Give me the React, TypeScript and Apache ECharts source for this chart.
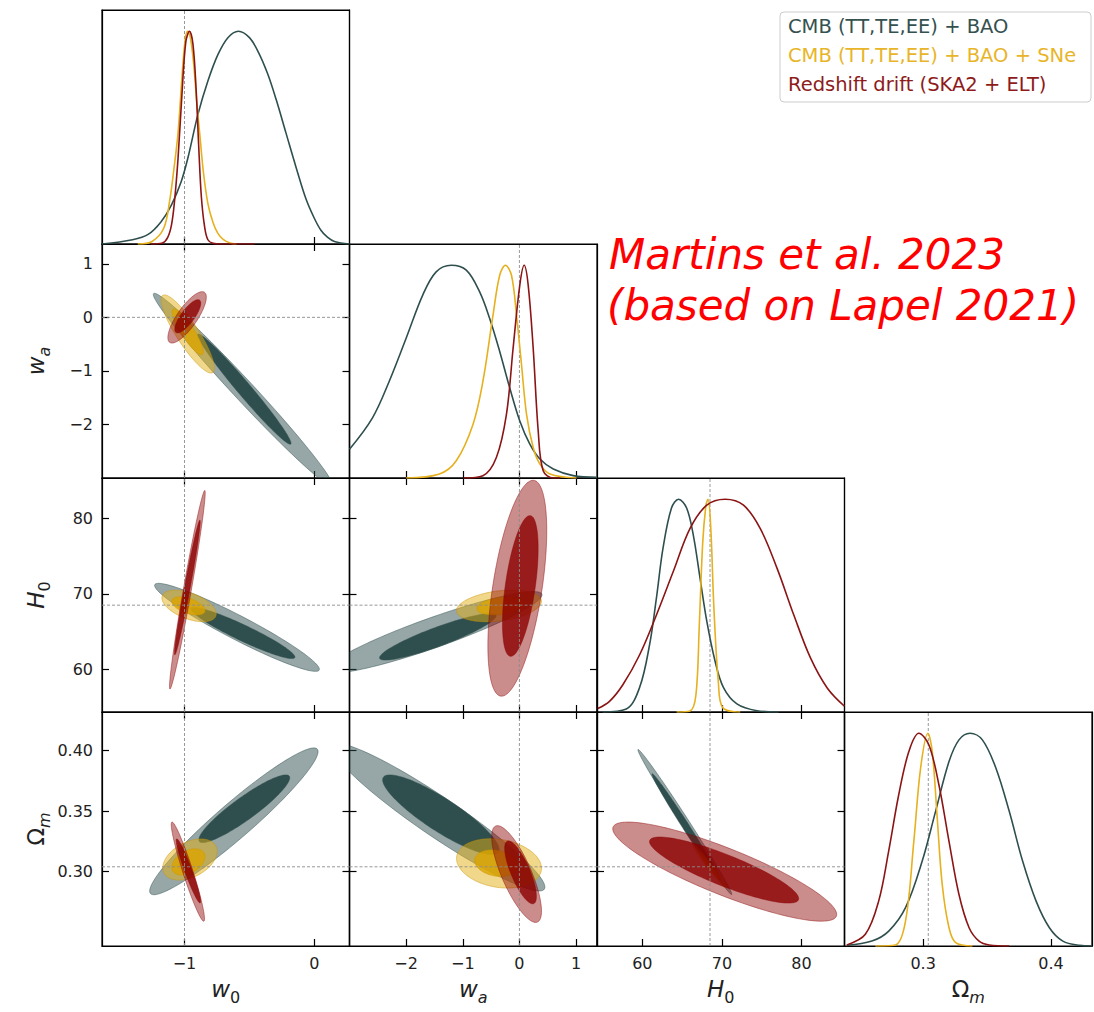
import React, { useEffect, useRef } from "react";
import * as echarts from "echarts";

// ---------- labels ----------
const seriesNames = ["CMB (TT,TE,EE) + BAO", "CMB (TT,TE,EE) + BAO + SNe", "Redshift drift (SKA2 + ELT)"];
const annotationLines = ["Martins et al. 2023", "(based on Lapel 2021)"];

// ---------- axes ----------
const rangeW0 = [-1.635, 0.27];
const rangeWa = [-3.0, 1.37];
const rangeH0 = [54.3, 85.4];
const rangeOm = [0.2385, 0.432];
const ticksW0 = [-1, 0];
const ticksWa = [-2, -1, 0, 1];
const ticksH0 = [60, 70, 80];
const ticksOmX = [0.3, 0.4];
const ticksOmY = [0.3, 0.35, 0.4];
const fiducials = [-1, 0, 68.5, 0.304]; // w0, wa, H0, Omega_m

// ---------- 1D marginals [x, normalised posterior] ----------
const cmbW0 = [[-1.635,0],[-1.4,0.02],[-1.28,0.045],[-1.18,0.105],[-1.1,0.184],[-1.025,0.294],[-0.974,0.404],[-0.897,0.608],[-0.82,0.766],[-0.743,0.89],[-0.666,0.97],[-0.585,1],[-0.5,0.97],[-0.43,0.9],[-0.36,0.8],[-0.295,0.68],[-0.218,0.52],[-0.141,0.36],[-0.064,0.21],[0.0,0.12],[0.05,0.065],[0.1,0.032],[0.154,0.012],[0.27,0]];
const sneW0 = [[-1.36,0],[-1.25,0.012],[-1.16,0.074],[-1.115,0.2],[-1.08,0.36],[-1.05,0.52],[-1.02,0.78],[-0.995,0.96],[-0.975,1],[-0.955,0.97],[-0.93,0.85],[-0.905,0.66],[-0.88,0.5],[-0.855,0.34],[-0.82,0.19],[-0.78,0.1],[-0.743,0.05],[-0.7,0.02],[-0.65,0.005],[-0.6,0]];
const driftW0 = [[-1.26,0],[-1.17,0.005],[-1.13,0.03],[-1.1,0.09],[-1.077,0.2],[-1.05,0.4],[-1.02,0.7],[-0.99,0.95],[-0.962,1],[-0.935,0.94],[-0.91,0.72],[-0.89,0.45],[-0.87,0.22],[-0.845,0.08],[-0.82,0.02],[-0.78,0.003],[-0.72,0],[-0.46,0]];
const cmbWa = [[-3.0,0.135],[-2.594,0.283],[-2.298,0.455],[-2.0,0.657],[-1.707,0.86],[-1.47,0.969],[-1.204,1],[-0.938,0.977],[-0.702,0.875],[-0.525,0.75],[-0.348,0.595],[-0.17,0.423],[0.007,0.268],[0.184,0.159],[0.362,0.089],[0.598,0.042],[0.95,0.011],[1.37,0.003]];
const sneWa = [[-2.0,0],[-1.411,0.019],[-1.115,0.081],[-0.82,0.252],[-0.644,0.455],[-0.466,0.766],[-0.348,0.953],[-0.247,1],[-0.14,0.953],[-0.051,0.766],[0.037,0.533],[0.126,0.299],[0.243,0.143],[0.362,0.065],[0.539,0.019],[1.01,0]];
const driftWa = [[-0.986,0],[-0.644,0.011],[-0.407,0.096],[-0.229,0.299],[-0.111,0.611],[0.007,0.907],[0.084,1],[0.155,0.907],[0.243,0.611],[0.332,0.221],[0.42,0.034],[0.598,0],[0.72,0]];
const cmbH0 = [[55.0,0],[57.98,0.014],[59.66,0.116],[60.92,0.319],[61.77,0.537],[62.6,0.771],[63.66,0.959],[64.55,1],[65.56,0.959],[66.39,0.834],[67.24,0.631],[68.09,0.428],[69.13,0.24],[70.18,0.116],[71.88,0.038],[74.4,0.006],[77.13,0]];
const sneH0 = [[64.3,0],[65.98,0.005],[66.73,0.08],[67.15,0.403],[67.58,0.794],[68.0,0.975],[68.25,1],[68.59,0.87],[69.0,0.48],[69.55,0.14],[70.1,0.02],[72.3,0]];
const driftH0 = [[54.39,0.016],[55.87,0.05],[57.55,0.128],[59.66,0.269],[61.77,0.456],[63.87,0.659],[65.98,0.862],[68.09,0.972],[70.4,1],[72.71,0.972],[74.82,0.862],[76.93,0.675],[79.03,0.456],[81.14,0.253],[83.25,0.112],[85.4,0.027]];
const cmbOm = [[0.2403,0.003],[0.2599,0.023],[0.2731,0.07],[0.2862,0.18],[0.2992,0.398],[0.3097,0.633],[0.3202,0.867],[0.328,0.969],[0.3367,1],[0.3463,0.969],[0.3569,0.836],[0.3673,0.633],[0.3778,0.398],[0.3883,0.211],[0.3987,0.086],[0.4092,0.023],[0.4223,0.003],[0.432,0]];
const sneOm = [[0.2626,0],[0.2783,0.005],[0.2862,0.117],[0.2927,0.492],[0.298,0.836],[0.3037,1],[0.3071,0.914],[0.311,0.602],[0.3149,0.289],[0.3202,0.086],[0.3254,0.016],[0.3385,0]];
const driftOm = [[0.2403,0.005],[0.2548,0.055],[0.2652,0.211],[0.273,0.445],[0.2809,0.711],[0.2888,0.914],[0.2966,1],[0.3045,0.945],[0.3123,0.758],[0.3202,0.492],[0.328,0.242],[0.3359,0.086],[0.3437,0.023],[0.3516,0.005],[0.3673,0]];

// ---------- 2D contours: [centreX, centreY, extentX, extentY, correlation]; [outer(95%), inner(68%)] ----------
const cmbW0Wa = [[-0.55,-1.35,0.69,1.8,-0.988],[-0.54,-1.34,0.36,1.03,-0.982]];
const sneW0Wa = [[-0.975,-0.31,0.205,0.73,-0.875],[-0.975,-0.27,0.12,0.43,-0.875]];
const driftW0Wa = [[-0.98,0.0,0.148,0.48,0.787],[-0.975,0.02,0.1,0.31,0.787]];
const cmbW0H0 = [[-0.596,65.55,0.634,5.85,-0.952],[-0.55,64.8,0.4,3.4,-0.94]];
const sneW0H0 = [[-0.965,68.4,0.209,2.1,-0.506],[-0.97,68.4,0.128,1.21,-0.506]];
const driftW0H0 = [[-0.978,70.55,0.1375,13.2,0.974],[-0.978,70.85,0.099,8.95,0.974]];
const cmbW0Om = [[-0.62,0.3416,0.648,0.0607,0.95],[-0.54,0.352,0.35,0.028,0.914]];
const sneW0Om = [[-0.958,0.31,0.209,0.017,0.4],[-0.97,0.308,0.128,0.0109,0.4]];
const driftW0Om = [[-0.974,0.3,0.128,0.041,-0.949],[-0.97,0.3006,0.094,0.0265,-0.949]];
const cmbWaH0 = [[-1.5,64.9,1.9,5.4,0.92],[-1.44,64.3,1.03,3.1,0.9]];
const sneWaH0 = [[-0.36,68.4,0.75,2.1,0.3],[-0.33,68.4,0.42,1.2,0.3]];
const driftWaH0 = [[-0.037,70.75,0.52,14.35,0.534],[0.016,71.05,0.315,9.35,0.534]];
const cmbWaOm = [[-1.43,0.345,1.88,0.061,-0.947],[-1.385,0.347,1.03,0.033,-0.875]];
const sneWaOm = [[-0.36,0.3068,0.75,0.0204,-0.2],[-0.41,0.307,0.38,0.011,-0.2]];
const driftWaOm = [[-0.05,0.298,0.44,0.04,-0.765],[0.02,0.2994,0.28,0.026,-0.765]];
const cmbH0Om = [[65.34,0.341,5.9,0.06,-0.995],[65.5,0.337,4.3,0.044,-0.993]];
const sneH0Om = [[68.4,0.305,2.1,0.018,-0.98],[68.4,0.305,1.25,0.011,-0.98]];
const driftH0Om = [[70.35,0.3,14.07,0.041,-0.863],[70.27,0.3013,9.37,0.0273,-0.863]];

// ---------- styles ----------
const lineColors = ["#2F4F4F", "#E6B01E", "#8B1515"];
const legendColors = ["#35514F", "#E8B52A", "#8E1B1B"];
const fillOuter = ["rgba(47,79,79,0.5)", "rgba(228,176,20,0.5)", "rgba(139,0,0,0.45)"];
const fillInner = ["rgba(47,79,79,1)", "rgba(220,165,0,0.8)", "rgba(139,0,0,0.8)"];
const edgeColors = ["rgba(47,79,79,0.6)", "rgba(205,150,0,0.6)", "rgba(139,0,0,0.55)"];

const COL_LEFT = [102, 349.5, 597, 844.5];
const ROW_TOP = [10, 244, 478, 712];
const CELL_W = 247.5;
const CELL_H = 234;
const FONT = "DejaVu Sans";
const TEXT_COLOR = "#222";

const minusFmt = (v: number) => (v < 0 ? "\u2212" + String(Math.abs(v)) : String(v));

const richName = {
  i: { fontFamily: FONT, fontStyle: "italic", fontSize: 23, color: TEXT_COLOR, verticalAlign: "bottom", padding: [0, 0, 5, 0] },
  u: { fontFamily: FONT, fontSize: 23, color: TEXT_COLOR, verticalAlign: "bottom", padding: [0, 0, 5, 0] },
  s: { fontFamily: FONT, fontSize: 16, color: TEXT_COLOR, verticalAlign: "bottom" },
  si: { fontFamily: FONT, fontStyle: "italic", fontSize: 16, color: TEXT_COLOR, verticalAlign: "bottom" },
};

const PARAMS = [
  { range: rangeW0, xt: ticksW0, yt: ticksW0, fx: minusFmt, fy: minusFmt, name: "{i|w}{s|0}" },
  { range: rangeWa, xt: ticksWa, yt: ticksWa, fx: minusFmt, fy: minusFmt, name: "{i|w}{si|a}" },
  { range: rangeH0, xt: ticksH0, yt: ticksH0, fx: minusFmt, fy: minusFmt, name: "{i|H}{s|0}" },
  { range: rangeOm, xt: ticksOmX, yt: ticksOmY, fx: (v: number) => v.toFixed(1), fy: (v: number) => v.toFixed(2), name: "{u|\u03A9}{si|m}" },
];

const MARGINALS = [
  [cmbW0, sneW0, driftW0],
  [cmbWa, sneWa, driftWa],
  [cmbH0, sneH0, driftH0],
  [cmbOm, sneOm, driftOm],
];

const CONTOURS: Record<string, number[][][]> = {
  "1-0": [cmbW0Wa, sneW0Wa, driftW0Wa],
  "2-0": [cmbW0H0, sneW0H0, driftW0H0],
  "3-0": [cmbW0Om, sneW0Om, driftW0Om],
  "2-1": [cmbWaH0, sneWaH0, driftWaH0],
  "3-1": [cmbWaOm, sneWaOm, driftWaOm],
  "3-2": [cmbH0Om, sneH0Om, driftH0Om],
};

function makeAxis(
  gridIndex: number,
  position: string,
  range: number[],
  ticks: number[],
  showLabels: boolean,
  fmt: any,
  name: string,
  isY: boolean
) {
  return {
    type: "value",
    gridIndex,
    position,
    min: range[0],
    max: range[1],
    axisLine: { show: true, onZero: false, lineStyle: { color: "#000", width: 1.2 } },
    axisTick: {
      show: ticks.length > 0,
      inside: true,
      length: 7,
      customValues: ticks,
      lineStyle: { color: "#000", width: 1.2 },
    },
    axisLabel: {
      show: showLabels && ticks.length > 0,
      customValues: ticks,
      formatter: fmt,
      margin: 9,
      fontSize: 16,
      fontFamily: FONT,
      color: TEXT_COLOR,
    },
    splitLine: { show: false },
    name,
    nameLocation: "middle",
    nameGap: isY ? 50 : 31,
    nameRotate: isY ? 90 : 0,
    nameTextStyle: { fontFamily: FONT, fontSize: 23, color: TEXT_COLOR, rich: richName },
  };
}

function ellipseRenderer(k: number) {
  return (params: any, api: any) => {
    const cx = api.value(0), cy = api.value(1), sx = api.value(2), sy = api.value(3), r = api.value(4);
    const q = Math.sqrt(Math.max(0, 1 - r * r));
    const pts: number[][] = [];
    const N = 120;
    for (let n = 0; n < N; n++) {
      const t = (2 * Math.PI * n) / N;
      pts.push(api.coord([cx + sx * Math.cos(t), cy + sy * (r * Math.cos(t) + q * Math.sin(t))]));
    }
    const cs = params.coordSys;
    const outer = params.dataIndex === 0;
    return {
      type: "polygon",
      shape: { points: pts },
      style: {
        fill: outer ? fillOuter[k] : fillInner[k],
        stroke: edgeColors[k],
        lineWidth: 0.8,
      },
      clipPath: { type: "rect", shape: { x: cs.x, y: cs.y, width: cs.width, height: cs.height } },
    };
  };
}

function buildOption() {
  const grid: any[] = [];
  const xAxis: any[] = [];
  const yAxis: any[] = [];
  const series: any[] = [];
  let g = 0;
  for (let i = 0; i < 4; i++) {
    for (let j = 0; j <= i; j++) {
      const diag = i === j;
      const px = PARAMS[j];
      const py = PARAMS[i];
      grid.push({
        left: COL_LEFT[j],
        top: ROW_TOP[i],
        width: CELL_W,
        height: CELL_H,
        show: true,
        borderColor: "#000",
        borderWidth: 1.2,
        backgroundColor: "rgba(0,0,0,0)",
        containLabel: false,
        outerBoundsMode: "none",
      });
      const xb = xAxis.length;
      xAxis.push(makeAxis(g, "bottom", px.range, px.xt, i === 3, px.fx, i === 3 ? px.name : "", false));
      xAxis.push(makeAxis(g, "top", px.range, diag ? [] : px.xt, false, px.fx, "", false));
      const yl = yAxis.length;
      const yr = diag ? [0, 1.1] : py.range;
      yAxis.push(makeAxis(g, "left", yr, diag ? [] : py.yt, !diag && j === 0, py.fy, !diag && j === 0 ? py.name : "", true));
      yAxis.push(makeAxis(g, "right", yr, diag ? [] : py.yt, false, py.fy, "", true));

      const dashStyle = { type: [3, 2], color: "#8c8c8c", width: 0.9 };
      if (diag) {
        MARGINALS[j].forEach((d, k) => {
          series.push({
            type: "line",
            name: seriesNames[k],
            xAxisIndex: xb,
            yAxisIndex: yl,
            data: d,
            showSymbol: false,
            symbol: "none",
            smooth: 0.35,
            clip: true,
            lineStyle: { color: lineColors[k], width: 1.6 },
            z: 4 + k,
            silent: true,
          });
        });
        series.push({
          type: "line",
          xAxisIndex: xb,
          yAxisIndex: yl,
          data: [[fiducials[j], 0], [fiducials[j], 1.1]],
          symbol: "none",
          lineStyle: dashStyle,
          z: 3,
          silent: true,
        });
      } else {
        const sets = CONTOURS[i + "-" + j];
        sets.forEach((d, k) => {
          series.push({
            type: "custom",
            name: seriesNames[k],
            xAxisIndex: xb,
            yAxisIndex: yl,
            data: d,
            renderItem: ellipseRenderer(k),
            z: 2,
            silent: true,
          });
        });
        series.push({
          type: "line",
          xAxisIndex: xb,
          yAxisIndex: yl,
          data: [[fiducials[j], py.range[0]], [fiducials[j], py.range[1]]],
          symbol: "none",
          lineStyle: dashStyle,
          z: 3,
          silent: true,
        });
        series.push({
          type: "line",
          xAxisIndex: xb,
          yAxisIndex: yl,
          data: [[px.range[0], fiducials[i]], [px.range[1], fiducials[i]]],
          symbol: "none",
          lineStyle: dashStyle,
          z: 3,
          silent: true,
        });
      }
      g++;
    }
  }

  const graphic: any[] = [
    {
      type: "rect",
      shape: { x: 780, y: 12, width: 311, height: 90, r: 4 },
      style: { fill: "#fff", stroke: "#cccccc", lineWidth: 1 },
      z: 10,
    },
  ];
  seriesNames.forEach((nm, k) => {
    graphic.push({
      type: "text",
      x: 788,
      y: 26 + k * 29,
      style: {
        text: nm,
        fill: legendColors[k],
        font: `19.5px '${FONT}'`,
        textVerticalAlign: "middle",
        verticalAlign: "middle",
      },
      z: 11,
    });
  });
  annotationLines.forEach((t, k) => {
    graphic.push({
      type: "text",
      x: 609 - k * 2,
      y: 254 + k * 51,
      style: {
        text: t,
        fill: "#FF0000",
        font: `italic 42px '${FONT}'`,
        textVerticalAlign: "middle",
        verticalAlign: "middle",
      },
      z: 11,
    });
  });

  return {
    animation: false,
    backgroundColor: "#fff",
    grid,
    xAxis,
    yAxis,
    series,
    graphic,
  };
}

export default function App() {
  const ref = useRef<HTMLDivElement>(null);
  useEffect(() => {
    if (!ref.current) return;
    const chart = echarts.init(ref.current, null, { renderer: "svg" });
    chart.setOption(buildOption() as any);
    return () => chart.dispose();
  }, []);
  return (
    <div
      ref={ref}
      style={{ position: "fixed", left: 0, top: 0, width: 1094, height: 1012, background: "#fff" }}
    />
  );
}
